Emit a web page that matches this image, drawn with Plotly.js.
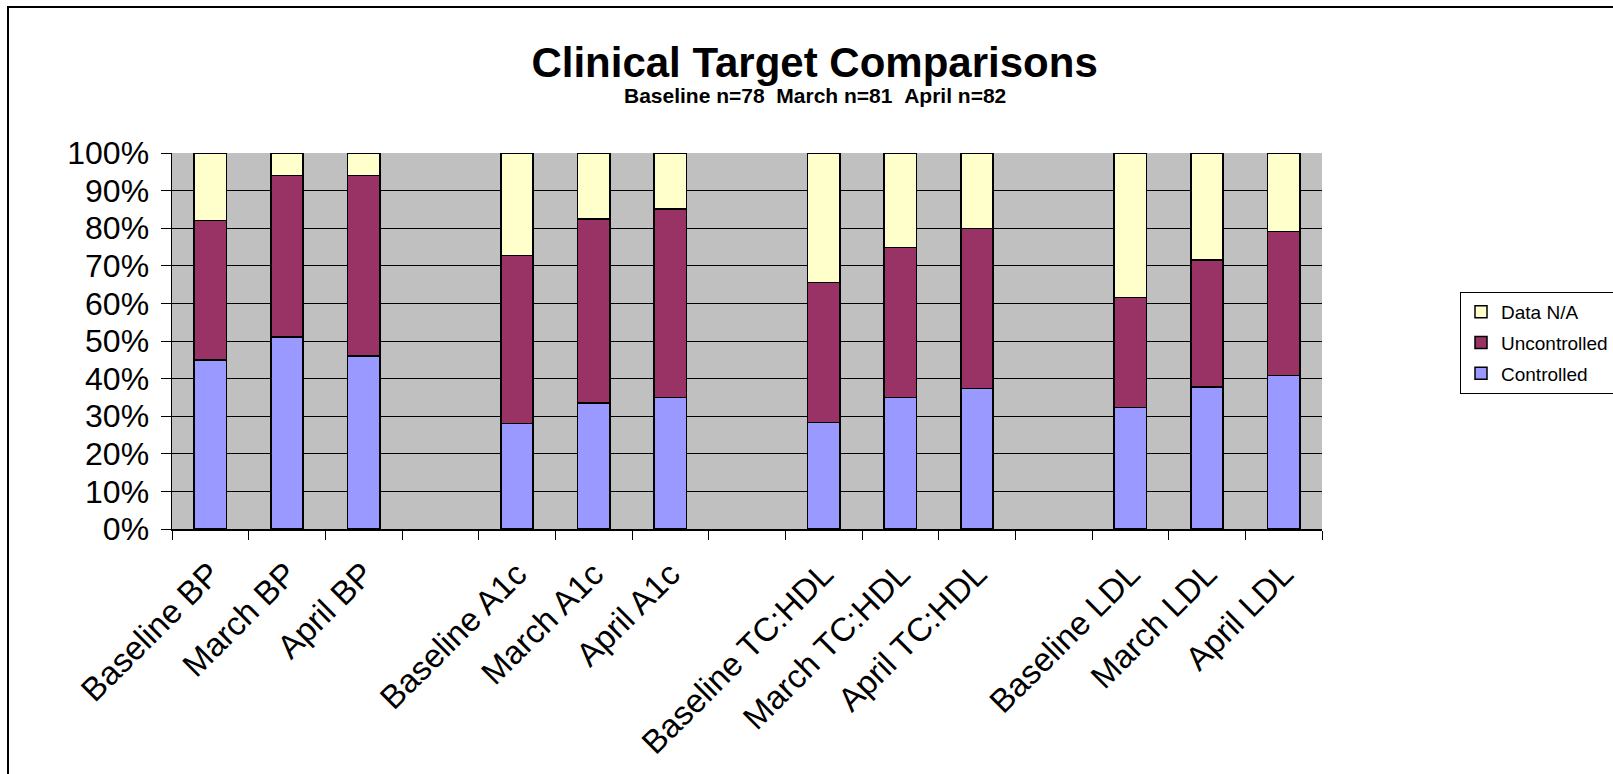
<!DOCTYPE html>
<html>
<head>
<meta charset="utf-8">
<script src="https://cdn.plot.ly/plotly-3.0.1.min.js"></script>
<style>
  html, body { margin: 0; padding: 0; background: #ffffff; }
  #wrap { position: relative; width: 1613px; height: 774px; overflow: hidden; }
  #chart { width: 1613px; height: 774px; }
  #frame { position: absolute; left: 7px; top: 6px; width: 1700px; height: 900px;
           border-left: 2px solid #000; border-top: 2px solid #000; pointer-events: none; }
</style>
</head>
<body>
<div id="wrap">
  <div id="chart"></div>
  <div id="frame"></div>
</div>
<script>
// Categories (blank strings are the empty gaps between groups)
const categories = [
  "Baseline BP", "March BP", "April BP", " ",
  "Baseline A1c", "March A1c", "April A1c", "  ",
  "Baseline TC:HDL", "March TC:HDL", "April TC:HDL", "   ",
  "Baseline LDL", "March LDL", "April LDL"
];

// Percent of patients
const controlled   = [45.0, 51.0, 46.0, null, 28.0, 33.5, 35.0, null, 28.3, 35.0, 37.4, null, 32.3, 37.8, 40.8];
const uncontrolled = [37.0, 43.0, 48.0, null, 44.7, 49.0, 50.1, null, 37.2, 39.9, 42.5, null, 29.3, 33.7, 38.3];
const dataNA       = [18.0,  6.0,  6.0, null, 27.3, 17.5, 14.9, null, 34.5, 25.1, 20.1, null, 38.4, 28.5, 20.9];

const yTickVals = [0, 10, 20, 30, 40, 50, 60, 70, 80, 90, 100];
const yTickText = ["0%", "10%", "20%", "30%", "40%", "50%", "60%", "70%", "80%", "90%", "100%"];

const titleText = "Clinical Target Comparisons";
const subtitleText = "Baseline n=78&nbsp;&nbsp;March n=81&nbsp;&nbsp;April n=82";

const FONT = "Liberation Sans, Arial, Helvetica, sans-serif";
const outline = { color: "#000000", width: 1.5 };

const traces = [
  { name: "Controlled", y: controlled, color: "#9999FF", group: "c", rank: 3 },
  { name: "Uncontrolled", y: uncontrolled, color: "#993366", group: "u", rank: 2 },
  { name: "Data N/A", y: dataNA, color: "#FFFFCC", group: "n", rank: 1 }
].map(s => ({
  type: "bar",
  name: s.name,
  x: categories,
  y: s.y,
  legendgroup: s.group,
  legendrank: s.rank,
  marker: { color: s.color, line: outline },
  hoverinfo: "x+y+name"
}));

const layout = {
  width: 1613,
  height: 774,
  barmode: "stack",
  bargap: 0.58,
  paper_bgcolor: "#ffffff",
  plot_bgcolor: "#C0C0C0",
  font: { family: FONT, color: "#000000" },
  margin: { l: 172, r: 291, t: 153, b: 245, pad: 0, autoexpand: false },
  title: {
    text: "<b>" + titleText + "</b>",
    font: { family: FONT, size: 42, color: "#000000" },
    xref: "container", yref: "container",
    x: 0.505, xanchor: "center",
    y: 1 - 62 / 774, yanchor: "middle"
  },
  annotations: [{
    text: "<b>" + subtitleText + "</b>",
    xref: "paper", yref: "paper",
    x: (815 - 172) / 1150, y: (529 - 96) / 376,
    xanchor: "center", yanchor: "middle",
    showarrow: false,
    font: { family: FONT, size: 21, color: "#000000" }
  }],
  xaxis: {
    type: "category",
    categoryorder: "array",
    categoryarray: categories,
    tickson: "boundaries",
    ticks: "outside",
    ticklen: 9,
    tickwidth: 1,
    tickcolor: "#000000",
    showline: true,
    linecolor: "#000000",
    linewidth: 1.5,
    showgrid: false,
    tickangle: -45,
    ticklabelstandoff: 11,
    tickfont: { family: FONT, size: 33, color: "#000000" },
    fixedrange: true
  },
  yaxis: {
    range: [0, 100],
    tickmode: "array",
    tickvals: yTickVals,
    ticktext: yTickText,
    ticks: "outside",
    ticklen: 10,
    tickwidth: 1,
    tickcolor: "#000000",
    showline: true,
    linecolor: "#000000",
    linewidth: 1.5,
    showgrid: true,
    gridcolor: "#000000",
    gridwidth: 1,
    zeroline: false,
    ticklabelstandoff: 5,
    tickfont: { family: FONT, size: 32, color: "#000000" },
    fixedrange: true
  },
  showlegend: true,
  legend: {
    x: (1460 - 172) / 1150,
    xanchor: "left",
    y: (529 - 292) / 376,
    yanchor: "top",
    traceorder: "grouped",
    tracegroupgap: 3,
    bgcolor: "#ffffff",
    bordercolor: "#000000",
    borderwidth: 1,
    itemwidth: 30,
    font: { family: FONT, size: 19, color: "#000000" }
  }
};

Plotly.newPlot("chart", traces, layout, { displayModeBar: false, staticPlot: true });
</script>
</body>
</html>
